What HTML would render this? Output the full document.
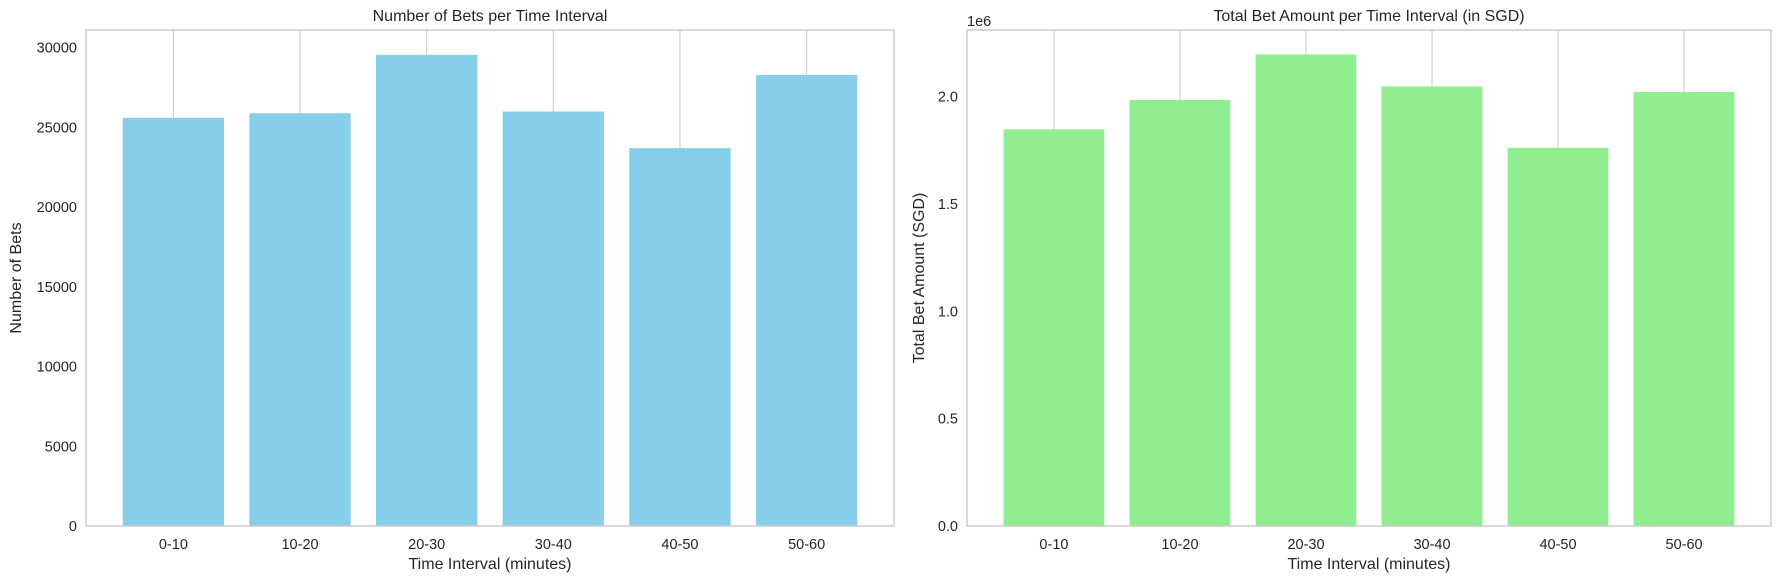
<!DOCTYPE html>
<html><head><meta charset="utf-8"><style>
body{margin:0;background:#fff}
svg{display:block;font-family:"Liberation Sans",Arial,sans-serif;fill:#262626}
</style></head><body>
<svg id="c" width="1784" height="584" xmlns="http://www.w3.org/2000/svg"></svg>
<script>
const categories = ["0-10","10-20","20-30","30-40","40-50","50-60"];
const betCounts = [25600, 25890, 29550, 26000, 23700, 28290];
const betAmounts = [1.848e6, 1.985e6, 2.197e6, 2.048e6, 1.762e6, 2.022e6];
const leftTicks = [0,5000,10000,15000,20000,25000,30000];
const leftTickLabels = ["0","5000","10000","15000","20000","25000","30000"];
const rightTicks = [0,0.5e6,1e6,1.5e6,2e6];
const rightTickLabels = ["0.0","0.5","1.0","1.5","2.0"];

const svg = document.getElementById('c');
const NS = 'http://www.w3.org/2000/svg';
function mk(tag, attrs, parent){const e=document.createElementNS(NS,tag);for(const k in attrs)e.setAttribute(k,attrs[k]);(parent||svg).appendChild(e);return e;}

function panel(opt){
  const g = mk('g',{});
  
  
  const L=opt.x0,R=opt.x1,T=30,B=526;
  const n=opt.cats.length;
  const xmin=-0.69,xmax=n-1+0.69;
  const xs=v=>L+(v-xmin)/(xmax-xmin)*(R-L);
  const ys=v=>B-v/opt.ymax*(B-T);
  // grid
  opt.cats.forEach((c,i)=>{
    const l=mk('line',{x1:xs(i),x2:xs(i),y1:T,y2:B,stroke:'#cccccc','stroke-width':1.1},g);
    
    
  });
  // bars
  opt.vals.forEach((v,i)=>{
    const w=0.8*(xs(1)-xs(0));
    const r=mk('rect',{x:xs(i)-w/2,y:ys(v),width:w,height:B-ys(v),fill:opt.color},g);
    
    
  });
  // frame
  const f=mk('rect',{x:L,y:T,width:R-L,height:B-T,fill:'none',stroke:'#cccccc','stroke-width':1.5},g);
  
  
  // x ticks
  opt.cats.forEach((c,i)=>{
    const t=mk('text',{x:xs(i),y:549,'font-size':14.5,'text-anchor':'middle'},g);
    t.textContent=c;
    
    
  });
  opt.ticks.forEach((v,i)=>{
    const t=mk('text',{x:L-9,y:ys(v)+5,'font-size':14.5,'text-anchor':'end'},g);
    t.textContent=opt.tickLabels[i];
    
    
  });
  const tt=mk('text',{x:(L+R)/2,y:21,'font-size':16,'text-anchor':'middle'},g);
  tt.textContent=opt.title;
  
  
  const xl=mk('text',{x:(L+R)/2,y:569,'font-size':16,'text-anchor':'middle'},g);
  xl.textContent='Time Interval (minutes)';
  
  
  const yl=mk('text',{x:0,y:0,'font-size':16,'text-anchor':'middle',transform:`translate(${opt.ylx},${(T+B)/2}) rotate(-90)`},g);
  yl.textContent=opt.ylabel;
  
  
  if(opt.offset){
    const o=mk('text',{x:L,y:26,'font-size':14.5},g);
    o.textContent=opt.offset;
    
    
  }
}
panel({name:'bets-count-panel',x0:86,x1:894,cats:categories,vals:betCounts,ymax:31110,color:'#87ceeb',
  ticks:leftTicks,tickLabels:leftTickLabels,title:'Number of Bets per Time Interval',ylabel:'Number of Bets',ylx:21});
panel({name:'bet-amount-panel',x0:967,x1:1771,cats:categories,vals:betAmounts,ymax:2.311e6,color:'#90ee90',
  ticks:rightTicks,tickLabels:rightTickLabels,title:'Total Bet Amount per Time Interval (in SGD)',ylabel:'Total Bet Amount (SGD)',ylx:924,offset:'1e6'});
</script>
</body></html>
